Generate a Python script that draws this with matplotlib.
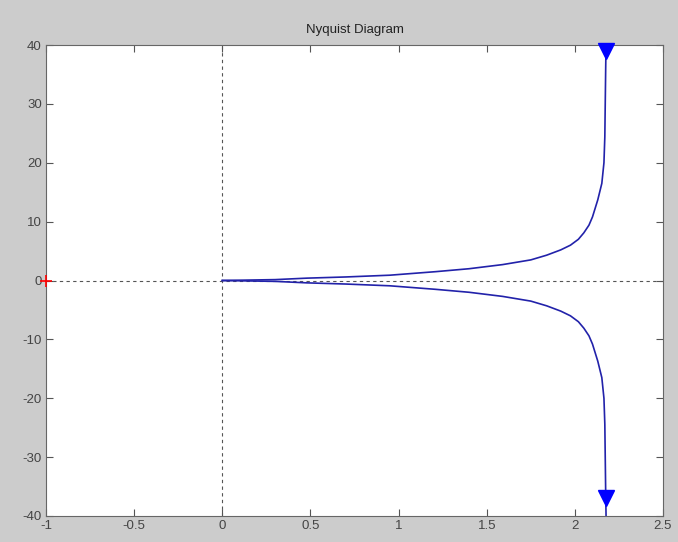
"""
Nyquist diagram, MATLAB look (grey frame, inward ticks on all sides).
Output: out.png
"""
import numpy as np
import matplotlib
matplotlib.use("Agg")
import matplotlib.pyplot as plt

# upper branch (negative frequencies)
re_up = [0.0, 0.30, 0.48, 0.70, 0.95, 1.21, 1.40, 1.59, 1.75, 1.84, 1.92,
         1.975, 2.02, 2.051, 2.08, 2.10, 2.13, 2.153, 2.165, 2.170, 2.175, 2.177]
im_up = [0.0, 0.15, 0.40, 0.60, 0.90, 1.50, 2.00, 2.70, 3.50, 4.30, 5.20,
         6.00, 7.00, 8.10, 9.40, 10.8, 13.7, 16.5, 20.0, 24.4, 36.3, 40.0]

# lower branch (positive frequencies) = conjugate of the upper one
re_low = re_up
im_low = [-v for v in im_up]

# arrow heads
arrow_re = [2.177, 2.177]
arrow_im = [39.0, -37.0]

xticks = [-1, -0.5, 0, 0.5, 1, 1.5, 2, 2.5]
xlabels = ["-1", "-0.5", "0", "0.5", "1", "1.5", "2", "2.5"]
yticks = [-40, -30, -20, -10, 0, 10, 20, 30, 40]

plt.rcParams["font.family"] = ["Liberation Sans", "DejaVu Sans"]
plt.rcParams["axes.unicode_minus"] = False

fig = plt.figure(figsize=(6.78, 5.42), dpi=100, facecolor="#cccccc")
ax = fig.add_axes([46 / 678, 1 - 516 / 542, (663 - 46) / 678, (516 - 45) / 542])
ax.set_facecolor("white")

# axes through the origin
ax.axhline(0, color="#555555", ls=(0, (3, 3)), lw=0.8, zorder=1)
ax.axvline(0, color="#555555", ls=(0, (3, 3)), lw=0.8, zorder=1)

ax.plot(re_up, im_up, color="#2222aa", lw=1.2, zorder=2)
ax.plot(re_low, im_low, color="#2222aa", lw=1.2, zorder=2)
ax.plot(arrow_re, arrow_im, ls="", marker="v", ms=11, color="#0000ff",
        mec="#0000ff", zorder=3, clip_on=False)

# critical point
ax.plot([-1], [0], marker="+", ms=9, mew=1.2, color="red", zorder=4, clip_on=False)

ax.set_xlim(-1, 2.5)
ax.set_ylim(-40, 40)
ax.set_xticks(xticks)
ax.set_xticklabels(xlabels)
ax.set_yticks(yticks)
ax.tick_params(direction="in", top=True, right=True, length=5, width=0.8,
               color="#555555", labelcolor="#444444", labelsize=9.5, pad=3)
for s in ax.spines.values():
    s.set_color("#666666")
    s.set_linewidth(0.8)

ax.set_title("Nyquist Diagram", fontsize=9.5, color="#222222", pad=9)

fig.savefig("out.png", dpi=100, facecolor=fig.get_facecolor())
